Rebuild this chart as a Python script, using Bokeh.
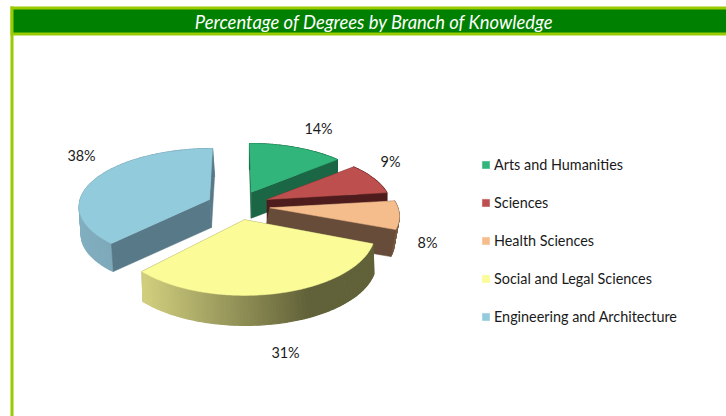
from math import sin, cos, radians
from bokeh.plotting import figure
from bokeh.models import Range1d, Label, Legend, LegendItem, ColumnDataSource
from bokeh.core.properties import value
from bokeh.embed import file_html
from bokeh.resources import INLINE

# ---- data
TITLE = "Percentage of Degrees by Branch of Knowledge"
CATEGORIES = ["Arts and Humanities", "Sciences", "Health Sciences",
              "Social and Legal Sciences", "Engineering and Architecture"]
PERCENTS = [14, 9, 8, 31, 38]

# ---- styles
TOP = ["#31b57a", "#bd504e", "#f6bd8c", "#fbfb98", "#92cbdc"]
CUT = ["#1a6645", "#4e1c1c", "#674c39", "#62623a", "#587987"]
WALL_A = [(26, 102, 69), (78, 28, 28), (120, 90, 65), (210, 208, 127), (130, 175, 192)]
WALL_B = [(26, 102, 69), (78, 28, 28), (120, 90, 65), (98, 98, 58), (110, 150, 168)]

# ---- layout of the exploded projected pie (page pixels)
APEX = [(250.7, 191.7), (266.7, 199.0), (269.3, 207.3), (244.0, 219.3), (209.0, 199.0)]
PERSP = [0.15, 0.15, 0.15, 0.20, 0.10]
XSCALE = [0.97, 0.96, 1.0, 1.0, 1.01]
YSCALE = [1.0, 1.0, 1.0, 1.08, 1.0]
LEAN = [0.035, 0.0, 0.0, 0.0, -0.06]
DEPTH = [26, 25, 27, 30, 28]
DEPTH_DX = [0, 0, -5, 1, 2]
CUT_FIRST = [False, False, False, True, False]
RX, RY = 128, 56
LABEL_POS = [(318, 128), (390, 161), (427, 242), (285, 352), (81, 155)]


def project(i, deg, lower=False):
    t = radians(deg)
    u, f = sin(t), -cos(t)
    s = 1 / (1 - PERSP[i] * f)
    dx, dy = RX * XSCALE[i] * u * s, RY * f * s * YSCALE[i]
    x = APEX[i][0] + dx - LEAN[i] * -dy
    y = APEX[i][1] + dy
    if lower:
        x += DEPTH_DX[i]
        y += DEPTH[i]
    return x, y


def apex(i, lower=False):
    x, y = APEX[i]
    return (x + DEPTH_DX[i], y + DEPTH[i]) if lower else (x, y)


def mix(a, b, w):
    w = max(0.0, min(1.0, w))
    return "#%02x%02x%02x" % tuple(round(a[k] + (b[k] - a[k]) * w) for k in range(3))


p = figure(width=726, height=416, x_range=Range1d(0, 726), y_range=Range1d(416, 0),
           toolbar_location=None, output_backend="svg", min_border=0,
           outline_line_color=None, background_fill_color="white",
           border_fill_color="white")
p.axis.visible = False
p.grid.visible = False

# frame and title band
p.quad(left=[10], right=[13], top=[6], bottom=[416], fill_color="#99cc00", line_color=None)
p.quad(left=[10], right=[726], top=[6], bottom=[35], fill_color="#99cc00", line_color=None)
p.quad(left=[13], right=[726], top=[9], bottom=[32], fill_color="#008000", line_color=None)
p.add_layout(Label(x=373.5, y=21, text=TITLE, text_align="center", text_baseline="middle",
                   text_color="white", text_font="Lato", text_font_style="italic",
                   text_font_size="18.4px"))


def draw_cuts(i, a0, a1):
    for a in (a0, a1):
        e = project(i, a)
        el = project(i, a, True)
        q, ql = apex(i), apex(i, True)
        p.patch([q[0], e[0], el[0], ql[0]], [q[1], e[1], el[1], ql[1]],
                fill_color=CUT[i], line_color=CUT[i], line_width=0.5)


# pie slices
edges = [0.0]
for v in PERCENTS:
    edges.append(edges[-1] + v * 3.6)

tops = []
for i in [4, 0, 1, 2, 3]:
    a0, a1 = edges[i], edges[i + 1]
    n = max(2, int(a1 - a0))
    angs = [a0 + (a1 - a0) * k / n for k in range(n + 1)]
    if CUT_FIRST[i]:
        draw_cuts(i, a0, a1)
    # outer curved wall, as strips that carry the shading
    xs, ys, cols = [], [], []
    allx = [project(i, a)[0] for a in angs]
    xmin, xmax = min(allx), min(max(allx), min(allx) + 165)
    for k in range(n):
        ta, tb = project(i, angs[k]), project(i, angs[k + 1])
        la, lb = project(i, angs[k], True), project(i, angs[k + 1], True)
        xs.append([ta[0], tb[0], lb[0], la[0]])
        ys.append([ta[1], tb[1], lb[1], la[1]])
        cols.append(mix(WALL_A[i], WALL_B[i], ((ta[0] + tb[0]) / 2 - xmin) / max(1, xmax - xmin)))
    p.patches(xs, ys, fill_color=cols, line_color=cols, line_width=1.2)
    if not CUT_FIRST[i]:
        draw_cuts(i, a0, a1)
    # top face
    pts = [apex(i)] + [project(i, a) for a in angs]
    r = p.patches([[c[0] for c in pts]], [[c[1] for c in pts]], fill_color=TOP[i],
                  line_color=TOP[i], line_width=0.5)
    tops.append((i, r))

# value labels
src = ColumnDataSource(dict(x=[c[0] for c in LABEL_POS], y=[c[1] for c in LABEL_POS],
                            t=[f"{v}%" for v in PERCENTS]))
p.text("x", "y", text="t", source=src, text_align="center", text_baseline="middle",
       text_color="#1a1a1a", text_font=value("Lato"), text_font_size="14.4px")

# legend
by_index = dict(tops)
legend = Legend(items=[LegendItem(label=CATEGORIES[i], renderers=[by_index[i]]) for i in range(5)],
                location=(481, 90), orientation="vertical", glyph_width=9, glyph_height=9,
                label_standoff=4, spacing=18, padding=0, margin=0,
                border_line_color=None, background_fill_alpha=0,
                label_text_font="Lato", label_text_font_size="14.4px", label_text_color="#1a1a1a",
                label_height=20)
p.add_layout(legend)

open("out.html", "w").write(file_html(p, INLINE))
